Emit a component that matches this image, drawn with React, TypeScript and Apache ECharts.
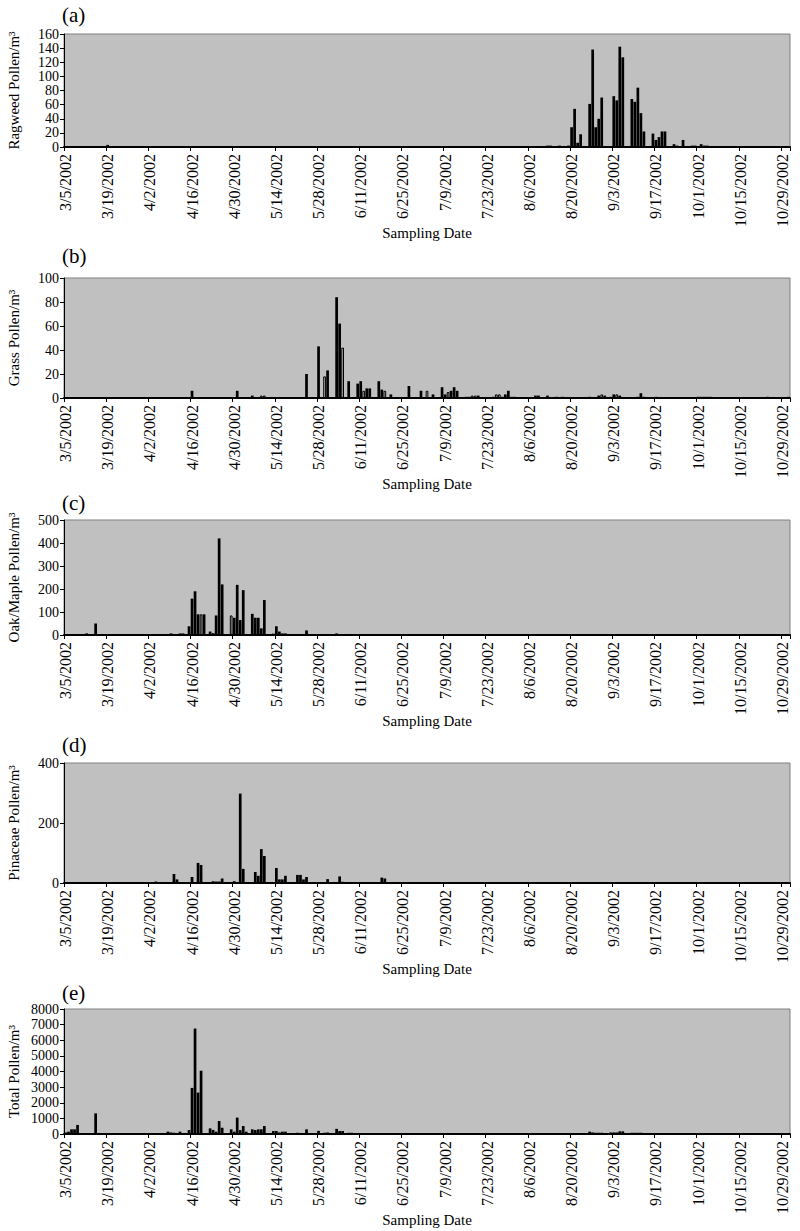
import React, { useEffect, useRef } from 'react';
import * as echarts from 'echarts';

// ---------- DATA ----------
const DAY_COUNT = 241; // 3/5/2002 .. 10/31/2002
const START_UTC = Date.UTC(2002, 2, 5);
const categories: string[] = [];
for (let i = 0; i < DAY_COUNT; i++) {
  const d = new Date(START_UTC + i * 86400000);
  categories.push(`${d.getUTCMonth() + 1}/${d.getUTCDate()}/${d.getUTCFullYear()}`);
}

// [day index from 3/5/2002, pollen per m3]; days not listed are 0
const ragweed: [number, number][] = [
  [14, 3], [160, 2], [161, 2], [164, 2], [167, 2], [168, 28], [169, 54], [170, 6], [171, 18],
  [174, 61], [175, 138], [176, 28], [177, 40], [178, 70], [182, 72], [183, 66], [184, 142],
  [185, 127], [188, 68], [189, 64], [190, 84], [191, 48], [192, 22], [195, 19], [196, 10],
  [197, 14], [198, 22], [199, 22], [202, 4], [203, 2], [205, 10], [208, 2], [209, 2], [211, 4],
  [212, 2], [213, 2],
];

const grass: [number, number][] = [
  [42, 6], [57, 6], [62, 2], [65, 2], [66, 2], [80, 20], [84, 43], [86, 18], [87, 23], [90, 84],
  [91, 62], [92, 42], [94, 14], [97, 12], [98, 14], [99, 6], [100, 8], [101, 8], [104, 14],
  [105, 7], [106, 6], [108, 3], [114, 10], [118, 6], [120, 6], [122, 3], [125, 9], [126, 3],
  [127, 5], [128, 6], [129, 9], [130, 6], [133, 1], [134, 1], [135, 2], [136, 2], [137, 2],
  [142, 1], [143, 3], [144, 3], [145, 1], [146, 3], [147, 6], [148, 1], [149, 1], [156, 2],
  [157, 2], [160, 2], [163, 1], [165, 1], [174, 1], [177, 2], [178, 3], [179, 2], [181, 1],
  [182, 3], [183, 3], [184, 2], [190, 1], [191, 4], [192, 1], [196, 1], [210, 1], [211, 1],
  [212, 1], [213, 1], [214, 1], [233, 1], [240, 1],
];
const grassHollow: number[] = [65, 66, 86, 92, 99, 106, 120, 127, 135, 136, 143, 144, 178, 183];

const oakMaple: [number, number][] = [
  [7, 7], [10, 50], [35, 7], [38, 7], [39, 7], [41, 38], [42, 158], [43, 190], [44, 90], [45, 90],
  [46, 90], [48, 15], [49, 8], [50, 85], [51, 420], [52, 220], [55, 85], [56, 75], [57, 218],
  [58, 65], [59, 195], [62, 92], [63, 75], [64, 75], [65, 29], [66, 152], [69, 6], [70, 38],
  [71, 15], [72, 7], [73, 7], [80, 20], [90, 7],
];
const oakHollow: number[] = [45, 55];

const pinaceae: [number, number][] = [
  [23, 3], [30, 5], [36, 30], [37, 12], [38, 2], [39, 2], [42, 20], [44, 67], [45, 60], [49, 6],
  [50, 5], [51, 5], [52, 15], [56, 6], [57, 3], [58, 298], [59, 47], [63, 37], [64, 24],
  [65, 113], [66, 90], [70, 50], [71, 12], [72, 12], [73, 24], [77, 27], [78, 27], [79, 12],
  [80, 20], [87, 13], [91, 22], [92, 4], [99, 2], [105, 18], [106, 15], [126, 1], [127, 1],
  [129, 1], [149, 1], [185, 1], [190, 1],
];

const total: [number, number][] = [
  [0, 100], [1, 150], [2, 300], [3, 300], [4, 580], [5, 50], [8, 50], [9, 50], [10, 1320],
  [14, 40], [15, 40], [16, 40], [17, 30], [18, 30], [21, 30], [22, 30], [24, 30], [26, 30],
  [27, 30], [29, 30], [34, 150], [35, 100], [36, 80], [38, 150], [41, 250], [42, 2950],
  [43, 6750], [44, 2650], [45, 4050], [48, 360], [49, 260], [50, 150], [51, 830], [52, 400],
  [55, 300], [56, 150], [57, 1050], [58, 250], [59, 510], [60, 150], [62, 300], [63, 250],
  [64, 300], [65, 300], [66, 510], [69, 190], [70, 190], [71, 100], [72, 150], [73, 150],
  [76, 60], [77, 80], [78, 60], [80, 300], [84, 200], [85, 60], [86, 80], [87, 100], [88, 60],
  [90, 330], [91, 190], [92, 190], [94, 80], [95, 80], [98, 40], [99, 40], [100, 40], [101, 40],
  [102, 40], [105, 60], [106, 60], [113, 40], [126, 40], [127, 40], [128, 40], [167, 50],
  [168, 30], [171, 30], [174, 150], [175, 100], [176, 80], [177, 80], [178, 80], [181, 100],
  [182, 100], [183, 100], [184, 170], [185, 170], [188, 80], [189, 80], [190, 80], [191, 80],
  [196, 50], [197, 50], [198, 50], [199, 50],
];

const panelLetters = ['(a)', '(b)', '(c)', '(d)', '(e)'];
const yTitles = ['Ragweed Pollen/m³', 'Grass Pollen/m³', 'Oak/Maple Pollen/m³', 'Pinaceae Pollen/m³', 'Total Pollen/m³'];
const yMax = [160, 100, 500, 400, 8000];
const yInterval = [20, 20, 100, 200, 1000];
const seriesData = [ragweed, grass, oakMaple, pinaceae, total];
const hollowDays = [[], grassHollow, oakHollow, [], []] as number[][];
const xTitle = 'Sampling Date';

// ---------- LAYOUT ----------
const layout = [
  { top: 34, height: 113, letterY: 15 },
  { top: 278, height: 120, letterY: 256 },
  { top: 520, height: 115, letterY: 503 },
  { top: 763, height: 120, letterY: 745 },
  { top: 1009, height: 125, letterY: 993 },
];
const GRID_LEFT = 64;
const GRID_RIGHT = 10;
const FONT = '"Liberation Serif", "Times New Roman", serif';

function expand(pairs: [number, number][], hollow: number[]) {
  const arr: any[] = new Array(DAY_COUNT).fill(0);
  pairs.forEach(([d, v]) => {
    arr[d] = hollow.includes(d)
      ? { value: v, itemStyle: { color: '#c0c0c0', borderColor: '#000', borderWidth: 1 } }
      : v;
  });
  return arr;
}

export default function App() {
  const ref = useRef<HTMLDivElement>(null);
  useEffect(() => {
    if (!ref.current) return;
    const chart = echarts.init(ref.current, undefined, { renderer: 'svg' });
    const grids: any[] = [];
    const xAxes: any[] = [];
    const yAxes: any[] = [];
    const series: any[] = [];
    const graphics: any[] = [];
    layout.forEach((l, i) => {
      grids.push({
        left: GRID_LEFT, right: GRID_RIGHT, top: l.top, height: l.height,
        show: true, backgroundColor: '#c0c0c0', borderColor: '#808080', borderWidth: 1,
        containLabel: false,
      });
      xAxes.push({
        type: 'category', gridIndex: i, data: categories, boundaryGap: true,
        axisLine: { show: true, lineStyle: { color: '#000', width: 2 } },
        axisTick: { show: true, interval: 13, length: 4, lineStyle: { color: '#000' } },
        axisLabel: {
          interval: 13, rotate: 90, margin: 7, color: '#000',
          fontFamily: FONT, fontSize: 16,
        },
        splitLine: { show: false },
      });
      yAxes.push({
        type: 'value', gridIndex: i, min: 0, max: yMax[i], interval: yInterval[i],
        axisLine: { show: true, lineStyle: { color: '#000', width: 1 } },
        axisTick: { show: true, length: 4, lineStyle: { color: '#000' } },
        axisLabel: {
          margin: 5, color: '#000', fontFamily: FONT, fontSize: 14, lineHeight: 13,
          interval: 0, showMinLabel: true, showMaxLabel: true, hideOverlap: false,
          formatter: (v: number) => String(v),
        },
        splitLine: { show: false },
      });
      series.push({
        type: 'bar', xAxisIndex: i, yAxisIndex: i, name: yTitles[i],
        data: expand(seriesData[i], hollowDays[i]),
        barCategoryGap: '10%',
        itemStyle: { color: '#000' },
      });
      graphics.push({
        type: 'text', left: 62, top: l.letterY - 11,
        style: { text: panelLetters[i], font: `21px ${FONT}`, fill: '#000' },
      });
      graphics.push({
        type: 'text', x: 14, y: l.top + l.height / 2, rotation: Math.PI / 2,
        style: {
          text: yTitles[i], font: `15px ${FONT}`, fill: '#000',
          align: 'center', verticalAlign: 'middle',
        },
      });
      graphics.push({
        type: 'text', x: GRID_LEFT + (800 - GRID_LEFT - GRID_RIGHT) / 2, y: l.top + l.height + 86,
        style: {
          text: xTitle, font: `15px ${FONT}`, fill: '#000',
          align: 'center', verticalAlign: 'middle',
        },
      });
    });
    chart.setOption({
      animation: false,
      backgroundColor: '#fff',
      grid: grids,
      xAxis: xAxes,
      yAxis: yAxes,
      series,
      graphic: graphics,
    });
    return () => chart.dispose();
  }, []);
  return (
    <div
      ref={ref}
      style={{ position: 'absolute', left: 0, top: 0, width: 800, height: 1231 }}
    />
  );
}
